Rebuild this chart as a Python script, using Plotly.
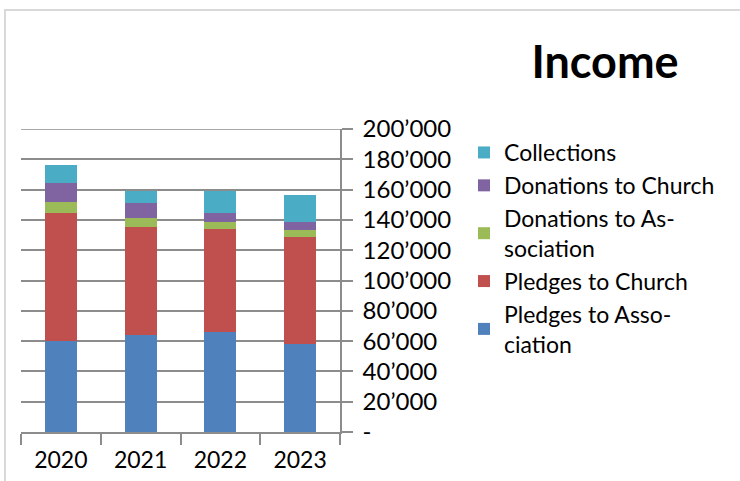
import plotly.graph_objects as go

years = ["2020", "2021", "2022", "2023"]
pledges_association = [60000, 64000, 66000, 58000]
pledges_church = [84500, 71000, 68000, 71000]
donations_association = [7300, 6400, 4600, 4600]
donations_church = [12500, 9900, 6000, 5300]
collections = [11900, 7900, 14500, 17800]

series_names = ["Pledges to Asso-<br>ciation", "Pledges to Church",
                "Donations to As-<br>sociation", "Donations to Church", "Collections"]
series_values = [pledges_association, pledges_church, donations_association,
                 donations_church, collections]
colors = ["#4F81BD", "#C0504D", "#9BBB59", "#8064A2", "#4BACC6"]

tick_vals = [0, 20000, 40000, 60000, 80000, 100000, 120000, 140000, 160000, 180000, 200000]
tick_text = ["-", "20’000", "40’000", "60’000", "80’000", "100’000", "120’000",
             "140’000", "160’000", "180’000", "200’000"]

FONT = "Lato"
fig = go.Figure()
for name, vals, col in zip(series_names, series_values, colors):
    fig.add_trace(go.Bar(x=years, y=vals, name=name, marker=dict(color=col, line=dict(width=0))))

W, H = 740, 481
L, R, T, B = 21, 400, 129, 49
pw, ph = W - L - R, H - T - B

def px(x):
    return (x - L) / pw

def py(y):
    return (H - B - y) / ph

fig.update_layout(
    width=W, height=H,
    margin=dict(l=L, r=R, t=T, b=B, pad=0, autoexpand=False),
    barmode="stack", bargap=0.6,
    plot_bgcolor="white", paper_bgcolor="white",
    font=dict(family=FONT, size=24, color="black"),
    showlegend=True,
    legend=dict(traceorder="reversed", x=px(464), xanchor="left", y=py(131), yanchor="top",
                font=dict(family=FONT, size=23, color="black"), bgcolor="rgba(0,0,0,0)"),
    title=dict(text="<b>Income</b>", x=605 / W, xref="container", xanchor="center",
               y=1 - 62 / H, yref="container", yanchor="middle",
               font=dict(family=FONT, size=45, color="black")),
    shapes=[dict(type="path", xref="paper", yref="paper",
                 path=f"M {px(5)} {py(485)} L {px(5)} {py(10)} L {px(745)} {py(10)}",
                 line=dict(color="#d9d9d9", width=2)),
            dict(type="line", xref="paper", yref="y", x0=0, x1=1,
                 y0=tick_vals[-1], y1=tick_vals[-1],
                 line=dict(color="#8c8c8c", width=1.5))],
)
fig.update_xaxes(showline=True, linecolor="#8c8c8c", linewidth=1.5, ticks="outside",
                 tickson="boundaries", ticklen=11, tickcolor="#8c8c8c", tickwidth=1.5,
                 showgrid=False, automargin=False, ticklabelstandoff=7,
                 tickfont=dict(family=FONT, size=23))
fig.update_yaxes(side="right", range=[0, 200000], tickvals=tick_vals, ticktext=tick_text,
                 showline=True, linecolor="#8c8c8c", linewidth=1.5, ticks="outside",
                 ticklen=11, tickcolor="#8c8c8c", tickwidth=1.5, automargin=False,
                 showgrid=True, gridcolor="#8c8c8c", gridwidth=1.5, zeroline=False,
                 ticklabelstandoff=5, tickfont=dict(family=FONT, size=24))

fig.write_html("out.html", config={"displayModeBar": False},
               post_script="document.body.style.margin='0';")
